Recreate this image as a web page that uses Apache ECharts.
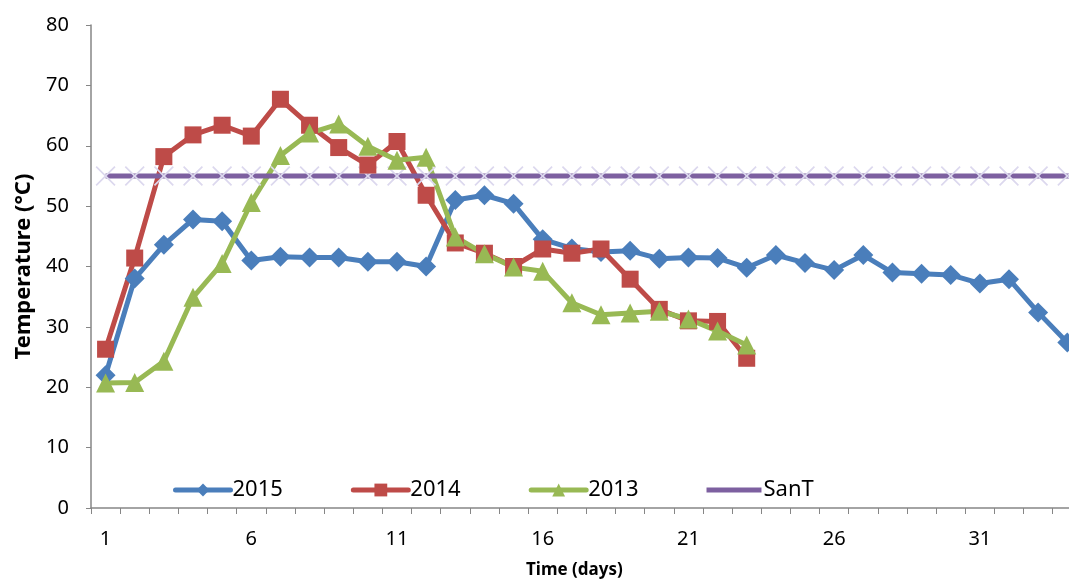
<!DOCTYPE html>
<html>
<head>
<meta charset="utf-8">
<script src="https://cdn.jsdelivr.net/npm/echarts@6/dist/echarts.min.js"></script>
<style>
  html, body { margin: 0; padding: 0; background: #fff; }
  #chart { width: 1069px; height: 587px; }
</style>
</head>
<body>
<div id="chart"></div>
<script>
// days shown on the x axis (the last one runs off the right edge)
const days = [];
for (let d = 1; d <= 35; d++) days.push(String(d));

const y2015 = [22.0, 38.0, 43.6, 47.8, 47.5, 41.0, 41.6, 41.5, 41.5, 40.8, 40.8, 40.0,
  51.0, 51.8, 50.4, 44.5, 43.0, 42.4, 42.6, 41.3, 41.5, 41.4, 39.8, 41.9, 40.6, 39.4,
  41.9, 39.0, 38.8, 38.6, 37.2, 37.9, 32.4, 27.4];
const y2014 = [26.3, 41.4, 58.2, 61.8, 63.4, 61.6, 67.7, 63.4, 59.7, 56.8, 60.7, 51.8,
  43.9, 42.2, 40.0, 42.9, 42.2, 42.9, 37.9, 32.9, 31.0, 30.9, 24.8];
const y2013 = [20.7, 20.8, 24.3, 34.9, 40.5, 50.6, 58.4, 62.1, 63.6, 59.9, 57.6, 58.1,
  44.9, 42.1, 39.9, 39.2, 34.0, 32.0, 32.3, 32.6, 31.3, 29.3, 27.0];
const sanT = days.map(() => 55);

const font = "'Noto Sans', 'DejaVu Sans', sans-serif";
const crossPath = "path://M0,0.6L0.6,0L5,4.4L9.4,0L10,0.6L5.6,5L10,9.4L9.4,10L5,5.6L0.6,10L0,9.4L4.4,5Z";
// plain line icon for the SanT legend entry (thin corner points keep the box size)
const lineIcon = "path://M0,0L55,0L55,0.01L0,0.01Z M0,5.5L55,5.5L55,10.5L0,10.5Z M0,16L55,16L55,16.01L0,16.01Z";

const myChart = echarts.init(document.getElementById("chart"));
let option = {
  animation: false,
  textStyle: { fontFamily: font, color: "#000" },
  grid: {
    left: 91,
    top: 25,
    bottom: 79,
    width: 1020,
    outerBoundsMode: "none",
  },
  legend: {
    data: ["2015", "2014", "2013", { name: "SanT", icon: lineIcon }],
    left: 168,
    top: 474,
    itemWidth: 55,
    itemHeight: 16,
    itemGap: 68,
    lineStyle: { width: 5, cap: "round" },
    textStyle: { fontSize: 22, color: "#000", fontFamily: font, padding: [0, 0, 0, -3] },
  },
  xAxis: {
    type: "category",
    data: days,
    boundaryGap: true,
    axisLine: { lineStyle: { color: "#868686", width: 1.5 } },
    axisTick: { show: true, length: 6, interval: 0, lineStyle: { color: "#868686" } },
    axisLabel: { interval: 4, margin: 21, fontSize: 20, color: "#000" },
    splitLine: { show: false },
  },
  yAxis: {
    type: "value",
    min: 0,
    max: 80,
    interval: 10,
    name: "Temperature (°C)",
    nameLocation: "middle",
    nameGap: 56,
    nameTextStyle: { fontSize: 22, fontWeight: "bold", color: "#000" },
    axisLine: { show: true, lineStyle: { color: "#868686", width: 1.5 } },
    axisTick: { show: true, length: 5, lineStyle: { color: "#868686" } },
    axisLabel: { margin: 22, fontSize: 20, color: "#000" },
    splitLine: { show: false },
  },
  graphic: [
    {
      type: "text",
      left: 526,
      top: 562,
      style: { text: "Time (days)", font: "bold 17px " + font, fill: "#000" },
    },
  ],
  series: [
    {
      name: "SanT marks",
      type: "line",
      data: sanT,
      symbol: crossPath,
      symbolSize: 20,
      showSymbol: true,
      showAllSymbol: true,
      lineStyle: { width: 0 },
      itemStyle: { color: "#dcd8ee" },
      silent: true,
    },
    {
      name: "2015",
      type: "line",
      data: y2015,
      symbol: "diamond",
      symbolSize: 20,
      showAllSymbol: true,
      lineStyle: { width: 5, color: "#4a7ebb" },
      itemStyle: { color: "#4a7ebb" },
    },
    {
      name: "2014",
      type: "line",
      data: y2014,
      symbol: "rect",
      symbolSize: 17,
      showAllSymbol: true,
      lineStyle: { width: 5, color: "#be4b48" },
      itemStyle: { color: "#be4b48" },
    },
    {
      name: "2013",
      type: "line",
      data: y2013,
      symbol: "triangle",
      symbolSize: 19,
      showAllSymbol: true,
      lineStyle: { width: 5, color: "#98b954" },
      itemStyle: { color: "#98b954" },
    },
    {
      name: "SanT",
      type: "line",
      data: sanT,
      symbol: "none",
      lineStyle: { width: 5, color: "#7d60a0" },
      itemStyle: { color: "#7d60a0" },
    },
  ],
};
myChart.setOption(option);
</script>
</body>
</html>
